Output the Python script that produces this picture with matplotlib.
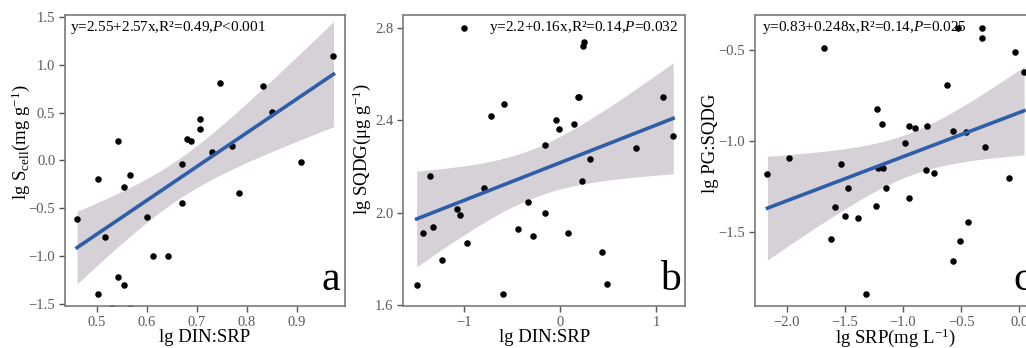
import numpy as np
import matplotlib
matplotlib.use("Agg")
import matplotlib.pyplot as plt

plt.rcParams['font.family'] = ['Liberation Serif', 'DejaVu Serif']
plt.rcParams['mathtext.fontset'] = 'custom'
plt.rcParams['mathtext.rm'] = 'Liberation Serif'
plt.rcParams['mathtext.it'] = 'Liberation Serif:italic'

# panel a: lg DIN:SRP vs lg S_cell
a_x = [0.461, 0.503, 0.517, 0.503, 0.531, 0.542, 0.542, 0.555, 0.555, 0.567,
       0.567, 0.601, 0.612, 0.643, 0.671, 0.671, 0.680, 0.689, 0.707, 0.707,
       0.731, 0.747, 0.771, 0.784, 0.832, 0.850, 0.909, 0.973]
a_y = [-0.61, -0.19, -0.80, -1.40, -1.55, 0.20, -1.22, -0.28, -1.30, -0.15,
       -1.55, -0.59, -1.00, -1.00, -0.035, -0.45, 0.23, 0.20, 0.325, 0.437,
       0.084, 0.811, 0.15, -0.343, 0.783, 0.51, -0.014, 1.094]

# panel b: lg DIN:SRP vs lg SQDG
b_x = [-1.493, -1.431, -1.358, -1.319, -1.233, -1.073, -1.045, -0.997, -0.972, -0.788,
       -0.715, -0.587, -0.590, -0.441, -0.337, -0.278, -0.153, -0.153, -0.038, -0.014,
       0.080, 0.142, 0.185, 0.198, 0.226, 0.236, 0.253, 0.316, 0.431, 0.493,
       0.792, 1.073, 1.177]
b_y = [1.687, 1.911, 2.159, 1.937, 1.795, 2.017, 1.988, 2.800, 1.869, 2.108,
       2.420, 2.472, 1.647, 1.929, 2.048, 1.900, 2.291, 1.997, 2.401, 2.361,
       1.911, 2.385, 2.502, 2.502, 2.138, 2.723, 2.739, 2.231, 1.830, 1.693,
       2.281, 2.500, 2.332]

# panel c: lg SRP vs lg PG:SQDG
c_x = [-2.166, -1.983, -1.679, -1.622, -1.587, -1.536, -1.501, -1.476, -1.390, -1.318,
       -1.232, -1.223, -1.215, -1.181, -1.172, -1.149, -0.983, -0.946, -0.946, -0.894,
       -0.799, -0.794, -0.734, -0.625, -0.573, -0.573, -0.510, -0.530, -0.461, -0.444,
       -0.321, -0.321, -0.295, -0.086, -0.037, 0.040]
c_y = [-1.183, -1.092, -0.490, -1.541, -1.365, -1.128, -1.411, -1.262, -1.426, -1.844,
       -1.356, -0.826, -1.149, -0.905, -1.149, -1.262, -1.013, -0.919, -1.314, -0.927,
       -1.158, -0.917, -1.178, -0.694, -0.945, -1.662, -1.552, -0.378, -0.949, -1.448,
       -0.376, -0.435, -1.031, -1.207, -0.512, -0.622]

# fitted lines as drawn in the figure (intercept, slope)
fits = [(-2.55, 3.55), (2.216, 0.163), (-0.844, 0.243)]

eqs = ['y=2.55+2.57x,R²=0.49,$\\mathit{P}$<0.001',
       'y=2.2+0.16x,R²=0.14,$\\mathit{P}$=0.032',
       'y=0.83+0.248x,R²=0.14,$\\mathit{P}$=0.025']
xlabels = ['lg DIN:SRP', 'lg DIN:SRP', 'lg SRP(mg L$^{\\mathrm{-1}}$)']
ylabels = ['lg S$_{\\mathrm{cell}}$(mg g$^{\\mathrm{-1}}$)',
           'lg SQDG(μg g$^{\\mathrm{-1}}$)', 'lg PG:SQDG']
letters = ['a', 'b', 'c']


def fit_band(x, y, b0, b1):
    x = np.asarray(x)
    y = np.asarray(y)
    n = len(x)
    res = y - (b0 + b1 * x)
    s = np.sqrt(np.sum(res ** 2) / (n - 2))
    sxx = np.sum((x - x.mean()) ** 2)
    xs = np.linspace(x.min(), x.max(), 100)
    df = n - 2
    z = 1.959964
    t = z + (z ** 3 + z) / (4 * df) + (5 * z ** 5 + 16 * z ** 3 + 3 * z) / (96 * df ** 2)
    se = s * np.sqrt(1 / n + (xs - x.mean()) ** 2 / sxx)
    yh = b0 + b1 * xs
    return xs, yh, yh - t * se, yh + t * se


W, H = 1026, 348
fig = plt.figure(figsize=(W / 100, H / 100), dpi=100)

boxes = [(65, 344.5), (403.3, 685), (755, 1036)]
top, bot = 15, 306
axes = [fig.add_axes([l / W, (H - bot) / H, (r - l) / W, (bot - top) / H]) for l, r in boxes]

data = [(a_x, a_y), (b_x, b_y), (c_x, c_y)]
xlims = [(0.437, 0.995), (-1.632, 1.30), (-2.273, 0.143)]
ylims = [(-1.525, 1.524), (1.596, 2.855), (-1.909, -0.307)]
xticks = [[0.5, 0.6, 0.7, 0.8, 0.9], [-1, 0, 1], [-2.0, -1.5, -1.0, -0.5, 0.0]]
yticks = [[-1.5, -1.0, -0.5, 0.0, 0.5, 1.0, 1.5], [1.6, 2.0, 2.4, 2.8], [-1.5, -1.0, -0.5]]
xfmt = ['{:.1f}', '{:.0f}', '{:.1f}']
ylab_pos = [(-0.118, 0.564), (-0.108, 0.54), (-0.127, 0.56)]
xlab_y = [-0.078, -0.078, -0.072]

for i, ax in enumerate(axes):
    x, y = data[i]
    xs, yh, lo, hi = fit_band(x, y, *fits[i])
    ax.fill_between(xs, lo, hi, color='#d6d1d6', lw=0, zorder=1)
    ax.scatter(x, y, s=22, color='black', zorder=2, lw=0)
    ax.plot(xs, yh, color='#2f5ea8', lw=2.6, zorder=3)
    ax.set_xlim(*xlims[i])
    ax.set_ylim(*ylims[i])
    ax.set_xticks(xticks[i])
    ax.set_xticklabels([xfmt[i].format(v).replace('-', '−') for v in xticks[i]])
    ax.set_yticks(yticks[i])
    ax.set_yticklabels(['{:.1f}'.format(v).replace('-', '−') for v in yticks[i]])
    ax.tick_params(direction='out', length=4, width=1, color='#555555',
                   labelcolor='#5a5a5a', labelsize=10.5, pad=3)
    for sp in ax.spines.values():
        sp.set_color('#7a7a7a')
        sp.set_linewidth(1.2)
    ax.set_xlabel(xlabels[i], fontsize=13.5, va='top')
    ax.xaxis.set_label_coords(0.5, xlab_y[i])
    ax.set_ylabel(ylabels[i], fontsize=13.5)
    ax.yaxis.set_label_coords(*ylab_pos[i])
    ax.text(0.985, 0.025, letters[i], transform=ax.transAxes, fontsize=30,
            ha='right', va='bottom')

axes[0].text(0.018, 0.985, eqs[0], transform=axes[0].transAxes, fontsize=11,
             ha='left', va='top')
axes[1].text(0.975, 0.985, eqs[1], transform=axes[1].transAxes, fontsize=11,
             ha='right', va='top')
axes[2].text(0.024, 0.985, eqs[2], transform=axes[2].transAxes, fontsize=11,
             ha='left', va='top')

fig.savefig('out.png', dpi=100)
